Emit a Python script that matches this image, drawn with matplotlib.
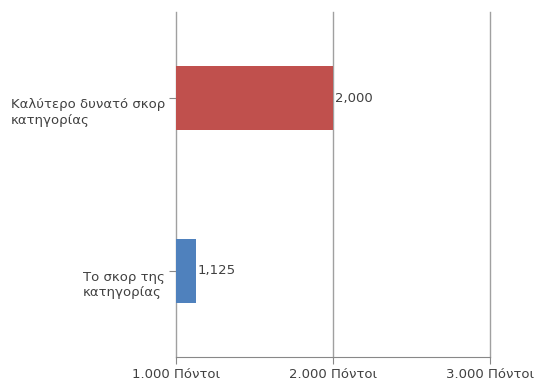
import matplotlib
matplotlib.use('Agg')
import matplotlib.pyplot as plt
import matplotlib.transforms as mtransforms

# data
categories = ['Καλύτερο δυνατό σκορ\nκατηγορίας', 'Το σκορ της\nκατηγορίας']
values = [2000, 1125]
value_labels = ['2,000', '1,125']
bar_colors = ['#c0504d', '#4f81bd']
x_ticks = [1000, 2000, 3000]
x_tick_labels = ['1.000 Πόντοι', '2.000 Πόντοι', '3.000 Πόντοι']

text_color = '#404040'
grid_color = '#a0a0a0'

plt.rcParams['font.family'] = ['DejaVu Sans']
plt.rcParams['font.size'] = 9.5

fig = plt.figure(figsize=(5.35, 3.81), dpi=100)
ax = fig.add_axes([176 / 535, 24 / 381, 314 / 535, 345 / 381])

ypos = [0, 1]
ax.barh(ypos, values, height=0.37, color=bar_colors, zorder=3)
for y, v, lab in zip(ypos, values, value_labels):
    ax.annotate(lab, (v, y), xytext=(1.5, 0), textcoords='offset points',
                va='center', ha='left', color=text_color)

ax.set_xlim(1000, 3000)
ax.set_ylim(1.5, -0.5)

ax.set_xticks(x_ticks)
ax.set_xticklabels(x_tick_labels, color=text_color)
ax.set_yticks(ypos)
ax.set_yticklabels(categories, color=text_color, multialignment='left',
                   va='top', linespacing=1.25)
# first line of each label sits on its tick
shift = mtransforms.ScaledTranslation(0, 8 / 72, fig.dpi_scale_trans)
for lbl in ax.get_yticklabels():
    lbl.set_transform(lbl.get_transform() + shift)

ax.xaxis.grid(True, color=grid_color, linewidth=1)
for gl in ax.get_xgridlines():
    gl.set_clip_on(False)
ax.set_axisbelow(True)
for s in ['top', 'right', 'left']:
    ax.spines[s].set_visible(False)
ax.spines['bottom'].set_color('#888888')
ax.tick_params(axis='x', length=5, color='#888888', pad=3)
ax.tick_params(axis='y', length=5, color='#888888', pad=3)

fig.savefig('out.png', dpi=100)
